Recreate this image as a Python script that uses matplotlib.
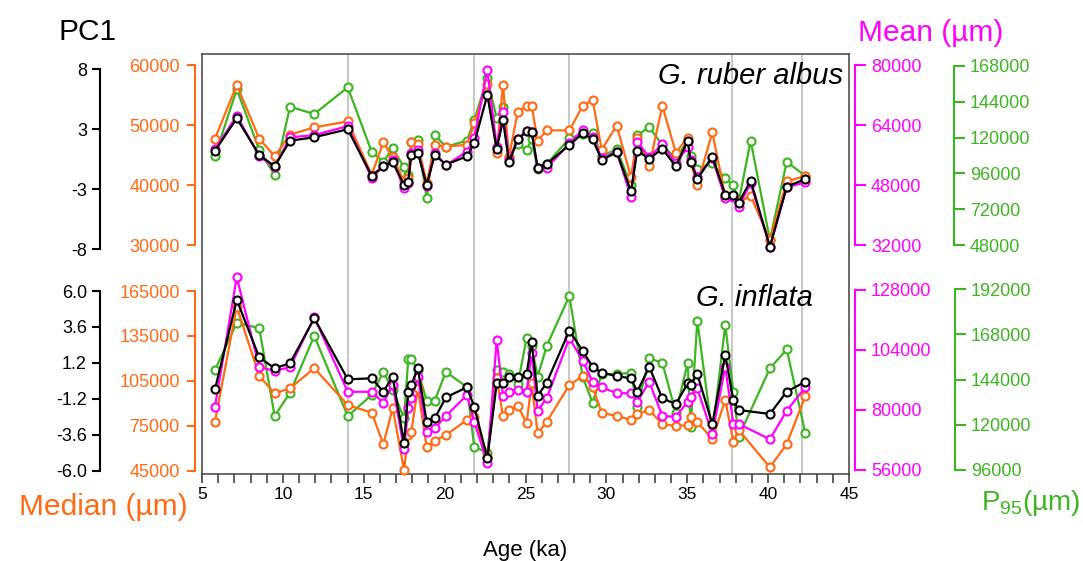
import numpy as np
import matplotlib
matplotlib.use('Agg')
import matplotlib.pyplot as plt
from matplotlib.ticker import MultipleLocator, FixedLocator

plt.rcParams['font.family'] = ['Liberation Sans', 'DejaVu Sans']
plt.rcParams['mathtext.fontset'] = 'custom'
plt.rcParams['mathtext.rm'] = 'Liberation Sans'

# ---- data ----
ages_top = [5.80, 7.15, 8.54, 9.49, 10.44, 11.94, 14.01, 15.49, 16.21, 16.79, 17.49, 17.75, 17.94,
            18.34, 18.89, 19.39, 20.08, 21.38, 21.83, 22.64, 23.22, 23.61, 23.98, 24.52, 25.07, 25.38,
            25.75, 26.31, 27.71, 28.54, 29.15, 29.71, 30.64, 31.52, 31.91, 32.65, 33.46, 34.29, 35.03,
            35.21, 35.62, 36.55, 37.35, 37.85, 38.18, 38.92, 40.11, 41.15, 42.30]
ages_bot = [a for a in ages_top if a != 38.92]

ruber_pc1 = [0.76, 3.64, 0.38, -0.62, 1.65, 1.96, 2.67, -1.46, -0.62, -0.24, -2.28, -1.99, 0.41, 0.59,
             -2.28, 0.41, -0.48, 0.27, 1.42, 5.72, 0.92, 3.49, -0.27, 1.78, 2.49, 2.45, -0.77, -0.42,
             1.27, 2.31, 1.78, -0.06, 0.62, -2.84, 0.76, 0.05, 0.94, -0.62, 1.65, -0.24, -1.75, 0.23,
             -3.15, -3.15, -3.86, -1.90, -7.77, -2.44, -1.75]
ruber_median = [47700, 56700, 47700, 44800, 48400, 49600, 50600, 41700, 47100, 44600, 40600, 41100,
                47100, 46900, 40300, 46700, 46400, 46700, 50300, 56900, 45400, 56700, 44700, 52200,
                53200, 53200, 47400, 49100, 49100, 53200, 54200, 45900, 49900, 41300, 47900, 43200,
                53200, 45400, 47900, 43900, 40000, 48800, 38100, 38100, 37100, 38200, 30800, 40600, 41500]
ruber_mean = [57500, 66500, 55700, 52700, 60700, 61300, 63700, 49900, 53000, 54700, 47100, 48500,
              56500, 57300, 47700, 56500, 53300, 56900, 60500, 78700, 58200, 67500, 54700, 60200,
              62500, 62200, 52500, 52500, 59100, 62700, 60700, 55100, 56900, 44900, 59500, 55400,
              58900, 53800, 58100, 54700, 50200, 55100, 44500, 44900, 42200, 48500, 31500, 47400, 48700]
ruber_p95 = [107700, 152400, 111700, 94900, 140700, 135800, 153700, 110500, 103800, 112800, 100100,
             94900, 117300, 118400, 79300, 121700, 113900, 117900, 131800, 159800, 132900, 140700,
             107200, 115500, 111700, 118900, 98800, 102300, 119500, 122400, 123300, 107700, 112200,
             88200, 121700, 126900, 115000, 106100, 117900, 107700, 98800, 102800, 92700, 88200,
             77000, 117900, 51400, 103800, 94300]

inflata_pc1 = [-0.57, 5.40, 1.57, 0.84, 1.17, 4.18, 0.10, 0.17, -0.72, 0.28, -4.17, -0.72, -0.28, 0.84,
               -2.73, -2.50, -1.10, -0.43, -1.73, -5.17, -0.16, -0.16, 0.24, 0.24, 0.46, 2.61, -1.01,
               -0.12, 3.35, 1.99, 0.94, 0.54, 0.32, 0.17, -0.72, 0.94, -1.17, -1.55, -0.16, -0.28,
               0.46, -2.88, 1.73, -1.28, -1.95, -2.21, -0.72, -0.06]
inflata_median = [77700, 154500, 108200, 96700, 100000, 113400, 88900, 83700, 62800, 86700, 45500,
                  68800, 71000, 100000, 61000, 65000, 68800, 78900, 81100, 54300, 106700, 81500,
                  85500, 88200, 76700, 103400, 70000, 77700, 102200, 108200, 101100, 83700, 81500,
                  78900, 82900, 85500, 76200, 74800, 75500, 81100, 77700, 66000, 92200, 64400,
                  72200, 47300, 62800, 94900]
inflata_mean = [81300, 133100, 97100, 95700, 97100, 117100, 87300, 87300, 82900, 90000, 64300, 80700,
                84700, 93300, 71300, 72700, 77600, 86000, 75300, 58900, 108000, 85600, 87300, 88000,
                87300, 102900, 79700, 84700, 108700, 99700, 91300, 89100, 86700, 86700, 83300, 91300,
                77600, 77300, 83300, 85100, 88700, 70400, 97300, 74400, 74400, 68300, 79700, 89100]
inflata_p95 = [149000, 174100, 171200, 124600, 137000, 167100, 124600, 135800, 148100, 138400,
               123400, 154700, 154700, 149000, 132800, 132800, 148100, 139900, 108400, 105200,
               149000, 148100, 146900, 141600, 165900, 161800, 145500, 161800, 188300, 145200,
               131700, 146900, 146900, 147600, 129600, 155200, 152900, 126400, 152900, 118600,
               175200, 115100, 172900, 137500, 113700, 149900, 160000, 115500]

boundaries = [14.0, 21.8, 27.7, 37.75, 42.1]

ORANGE = '#ff6a13'
MAGENTA = '#ff00ff'
GREEN = '#3cb521'
BLACK = 'black'

W, H = 1083, 561
fig = plt.figure(figsize=(W / 100, H / 100), dpi=100)

FL, FR, FT, FB = 202, 849, 54, 474


def box(y0, y1, x0=FL, x1=FR):
    # pixel box -> figure fraction
    return [x0 / W, 1 - y1 / H, (x1 - x0) / W, (y1 - y0) / H]


frame = fig.add_axes(box(FT, FB))
frame.set_xlim(5, 45)
frame.set_ylim(0, 1)
frame.set_yticks([])
frame.xaxis.set_major_locator(MultipleLocator(5))
frame.xaxis.set_minor_locator(MultipleLocator(1))
frame.tick_params(axis='x', which='both', direction='out', length=6.5, width=1.1,
                  color='#333333', labelsize=12.5, pad=3)
for s in frame.spines.values():
    s.set_color('#404040')
    s.set_linewidth(1.1)
for b in boundaries:
    frame.axvline(b, color='#c8c8c8', lw=1.4, zorder=0)
frame.set_xlabel('Age (ka)', fontsize=16, labelpad=27)


def yaxis(pos, lims, ticks, labels, color, side, offset, ages, vals, ticklen=6, pad=3.5, z=3):
    ax = fig.add_axes(pos)
    ax.patch.set_visible(False)
    ax.set_xlim(5, 45)
    ax.set_ylim(*lims)
    ax.xaxis.set_visible(False)
    for k, s in ax.spines.items():
        s.set_visible(k == side)
    sp = ax.spines[side]
    sp.set_position(('outward', offset))
    sp.set_color(color)
    sp.set_linewidth(1.5)
    if side == 'right':
        ax.yaxis.tick_right()
    else:
        ax.yaxis.tick_left()
    ax.yaxis.set_major_locator(FixedLocator(ticks))
    ax.set_yticklabels(labels)
    ax.tick_params(axis='y', direction='out', length=ticklen, width=1.5, color=color,
                   labelcolor=color, labelsize=13, pad=pad)
    ax.plot(ages, vals, '-o', color=color, lw=1.6, ms=5.8, mfc='white', mew=1.5,
            clip_on=False, zorder=z)
    return ax


# top panel: G. ruber albus
yaxis(box(66, 245), (48000, 168000), [48000, 72000, 96000, 120000, 144000, 168000],
      ['48000', '72000', '96000', '120000', '144000', '168000'], GREEN, 'right', 75.6,
      ages_top, ruber_p95, ticklen=8, z=2)
yaxis(box(65, 245), (30000, 60000), [30000, 40000, 50000, 60000],
      ['30000', '40000', '50000', '60000'], ORANGE, 'left', 5, ages_top, ruber_median,
      ticklen=6, pad=5, z=3)
yaxis(box(65, 245), (32000, 80000), [32000, 48000, 64000, 80000],
      ['32000', '48000', '64000', '80000'], MAGENTA, 'right', 4.3, ages_top, ruber_mean,
      ticklen=8, z=4)
yaxis(box(69.3, 249.3), (-8, 8), list(np.linspace(-8, 8, 4)),
      ['-8', '-3', '3', '8'], BLACK, 'left', 73.4, ages_top, ruber_pc1, ticklen=6, z=5)

# bottom panel: G. inflata
yaxis(box(289, 470), (96000, 192000), [96000, 120000, 144000, 168000, 192000],
      ['96000', '120000', '144000', '168000', '192000'], GREEN, 'right', 76.3,
      ages_bot, inflata_p95, ticklen=8, z=2)
yaxis(box(291, 470.7), (45000, 165000), [45000, 75000, 105000, 135000, 165000],
      ['45000', '75000', '105000', '135000', '165000'], ORANGE, 'left', 5, ages_bot,
      inflata_median, ticklen=6, pad=5, z=3)
yaxis(box(290, 470), (56000, 128000), [56000, 80000, 104000, 128000],
      ['56000', '80000', '104000', '128000'], MAGENTA, 'right', 4.3, ages_bot, inflata_mean,
      ticklen=8, z=4)
yaxis(box(291, 470.7), (-6, 6), [-6, -3.6, -1.2, 1.2, 3.6, 6],
      ['-6.0', '-3.6', '-1.2', '1.2', '3.6', '6.0'], BLACK, 'left', 73.4, ages_bot,
      inflata_pc1, ticklen=6, z=5)

fig.text(88 / W, 1 - 32 / H, 'PC1', fontsize=21.5, ha='center', va='center')
fig.text(103 / W, 1 - 507 / H, 'Median (µm)', fontsize=21.5, color=ORANGE, ha='center', va='center')
fig.text(931 / W, 1 - 33 / H, 'Mean (µm)', fontsize=21.5, color=MAGENTA, ha='center', va='center')
fig.text(1080 / W, 1 - 503 / H, r'P$_{\rm 95}$(µm)', fontsize=20, color=GREEN, ha='right', va='center')
fig.text(843 / W, 1 - 76 / H, 'G. ruber albus', fontsize=21, style='italic', ha='right', va='center')
fig.text(813 / W, 1 - 298 / H, 'G. inflata', fontsize=21, style='italic', ha='right', va='center')

fig.savefig('out.png', dpi=100)
